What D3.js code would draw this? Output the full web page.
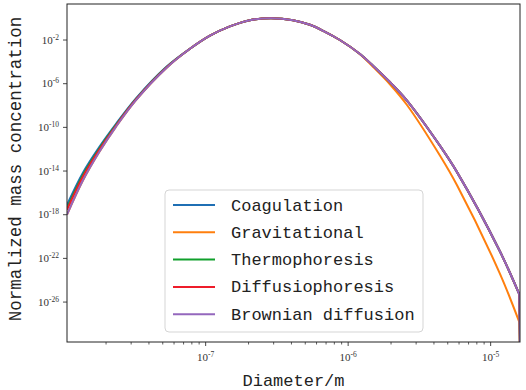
<!DOCTYPE html>
<html>
<head>
<meta charset="utf-8">
<script src="https://cdn.jsdelivr.net/npm/d3@7"></script>
<style>
  body { margin: 0; background: #fff; }
  .tick-label { font-family: "Liberation Serif", serif; font-size: 11px; fill: #333; }
  .axis-title { font-family: "Liberation Mono", monospace; fill: #222; }
  .legend-text { font-family: "Liberation Mono", monospace; font-size: 17px; fill: #222; }
</style>
</head>
<body>
<div id="chart"></div>
<script>
// diameter (m), shared by all series
const diameters = [1.064e-8, 1.377e-8, 1.782e-8, 2.344e-8, 3.243e-8, 5.26e-8, 7.76e-8, 1.072e-7,
    1.479e-7, 2.042e-7, 2.871e-7, 4.102e-7, 5.395e-7, 6.887e-7, 8.75e-7, 1.211e-6, 1.493e-6,
    1.963e-6, 2.588e-6, 4.416e-6, 5.808e-6, 1.161e-5, 1.59e-5, 1.607e-5];

// normalized mass concentration per mechanism (last value 0 -> drops off the axis)
const coagulation = [7.94e-18, 7.08e-15, 1.41e-12, 2.0e-10, 4.47e-8, 3.16e-5, 1.58e-3, 2.51e-2,
    0.178, 0.661, 1.0, 0.661, 0.251, 5.62e-2, 1.0e-2, 5.25e-4, 4.47e-5,
    1.41e-6, 2.82e-8, 2.0e-12, 7.94e-15, 4.47e-22, 5.01e-26, 0];
const gravitational = [1.0e-18, 1.41e-15, 5.0e-13, 1.12e-10, 3.16e-8, 2.51e-5, 1.58e-3, 2.51e-2,
    0.178, 0.661, 1.0, 0.661, 0.251, 5.62e-2, 1.0e-2, 5.01e-4, 3.55e-5,
    8.91e-7, 1.12e-8, 2.51e-13, 5.01e-16, 3.98e-24, 1.41e-28, 0];
const thermophoresis = [3.98e-18, 4.47e-15, 1.0e-12, 1.58e-10, 3.8e-8, 2.95e-5, 1.58e-3, 2.51e-2,
    0.178, 0.661, 1.0, 0.661, 0.251, 5.62e-2, 1.0e-2, 5.25e-4, 4.47e-5,
    1.41e-6, 2.82e-8, 2.0e-12, 7.94e-15, 4.47e-22, 5.01e-26, 0];
const diffusiophoresis = [2.82e-18, 3.16e-15, 7.94e-13, 1.41e-10, 3.55e-8, 2.75e-5, 1.58e-3, 2.51e-2,
    0.178, 0.661, 1.0, 0.661, 0.251, 5.62e-2, 1.0e-2, 5.25e-4, 4.47e-5,
    1.41e-6, 2.82e-8, 2.0e-12, 7.94e-15, 4.47e-22, 5.01e-26, 0];
const brownian = [1.0e-18, 1.41e-15, 5.0e-13, 1.12e-10, 3.16e-8, 2.51e-5, 1.58e-3, 2.51e-2,
    0.178, 0.661, 1.0, 0.661, 0.251, 5.62e-2, 1.0e-2, 5.25e-4, 4.47e-5,
    1.41e-6, 2.82e-8, 2.0e-12, 7.94e-15, 4.47e-22, 5.01e-26, 0];

const seriesNames = ["Coagulation", "Gravitational", "Thermophoresis", "Diffusiophoresis", "Brownian diffusion"];
const seriesValues = [coagulation, gravitational, thermophoresis, diffusiophoresis, brownian];
const seriesColors = ["#1f6fb4", "#ff7f0e", "#10a02c", "#ee1c2a", "#9467bd"];

const xTicks = [1e-7, 1e-6, 1e-5];
const yTicks = [1e-2, 1e-6, 1e-10, 1e-14, 1e-18, 1e-22, 1e-26];
const yDomain = [2.2e-30, 19.9];

let margin = {top: 4, right: 6, bottom: 48, left: 67};
let width = 526 - margin.left - margin.right;
let height = 390 - margin.top - margin.bottom;

let svg = d3.select("#chart").append("svg")
    .attr("width", 526)
    .attr("height", 390);

let g = svg.append("g")
    .attr("transform", "translate(" + margin.left + "," + margin.top + ")");

let x = d3.scaleLog()
    .domain(d3.extent(diameters))
    .range([0, width]);
let y = d3.scaleLog()
    .domain(yDomain)
    .range([height, 0]);

g.append("clipPath").attr("id", "clip")
    .append("rect").attr("width", width).attr("height", height);

// curves
let line = d3.line()
    .x(d => x(d.d))
    .y(d => y(d.v))
    .curve(d3.curveCatmullRom.alpha(0.5));

seriesValues.forEach((vals, i) => {
    let pts = diameters.map((d, j) => ({d: d, v: vals[j]}));
    let pos = pts.filter(p => p.v > 0);
    let last = pts[pts.length - 1];
    let path = line(pos);
    // zero value on a log axis: line falls straight off the bottom
    if (last.v <= 0) path += "L" + x(last.d) + "," + (height + 10);
    g.append("path")
        .attr("clip-path", "url(#clip)")
        .attr("fill", "none")
        .attr("stroke", seriesColors[i])
        .attr("stroke-width", 2)
        .attr("d", path);
});

// x axis: major + minor ticks
let minor = [];
for (let e = -8; e <= -5; e++) {
    for (let k = 2; k <= 9; k++) {
        let v = k * Math.pow(10, e);
        if (v >= x.domain()[0] && v <= x.domain()[1]) minor.push(v);
    }
}
g.selectAll(".xminor").data(minor).enter().append("line")
    .attr("x1", d => x(d)).attr("x2", d => x(d))
    .attr("y1", height).attr("y2", height + 2.5)
    .attr("stroke", "#333").attr("stroke-width", 0.8);
g.selectAll(".xmajor").data(xTicks).enter().append("line")
    .attr("x1", d => x(d)).attr("x2", d => x(d))
    .attr("y1", height).attr("y2", height + 4)
    .attr("stroke", "#333").attr("stroke-width", 0.9);

let xl = g.selectAll(".xlab").data(xTicks).enter().append("text")
    .attr("class", "tick-label")
    .attr("x", d => x(d))
    .attr("y", height + 19)
    .attr("text-anchor", "middle");
xl.append("tspan").text("10");
xl.append("tspan").attr("dy", -4).attr("font-size", 7.5).text(d => "-" + Math.round(-Math.log10(d)));

// y axis ticks
g.selectAll(".ymajor").data(yTicks).enter().append("line")
    .attr("x1", -4).attr("x2", 0)
    .attr("y1", d => y(d)).attr("y2", d => y(d))
    .attr("stroke", "#333").attr("stroke-width", 0.9);

let yl = g.selectAll(".ylab").data(yTicks).enter().append("text")
    .attr("class", "tick-label")
    .attr("x", -8)
    .attr("y", d => y(d) + 3.5)
    .attr("text-anchor", "end");
yl.append("tspan").text("10");
yl.append("tspan").attr("dy", -4).attr("font-size", 7.5).text(d => "-" + Math.round(-Math.log10(d)));

// frame
g.append("rect")
    .attr("width", width).attr("height", height)
    .attr("fill", "none").attr("stroke", "#222").attr("stroke-width", 1);

// axis titles
g.append("text")
    .attr("class", "axis-title")
    .attr("x", width / 2)
    .attr("y", height + 44)
    .attr("text-anchor", "middle")
    .attr("font-size", 17)
    .text("Diameter/m");
svg.append("text")
    .attr("class", "axis-title")
    .attr("transform", "translate(21," + 169 + ") rotate(-90)")
    .attr("text-anchor", "middle")
    .attr("font-size", 17.5)
    .text("Normalized mass concentration");

// legend
let legend = svg.append("g").attr("transform", "translate(165,190)");
legend.append("rect")
    .attr("width", 258).attr("height", 142)
    .attr("rx", 4)
    .attr("fill", "#fff").attr("fill-opacity", 0.85)
    .attr("stroke", "#d5d5d5");
seriesNames.forEach((name, i) => {
    let ly = 15 + i * 27.3;
    legend.append("line")
        .attr("x1", 8).attr("x2", 50)
        .attr("y1", ly).attr("y2", ly)
        .attr("stroke", seriesColors[i]).attr("stroke-width", 2);
    legend.append("text")
        .attr("class", "legend-text")
        .attr("x", 66)
        .attr("y", ly + 5.5)
        .text(name);
});
</script>
</body>
</html>
